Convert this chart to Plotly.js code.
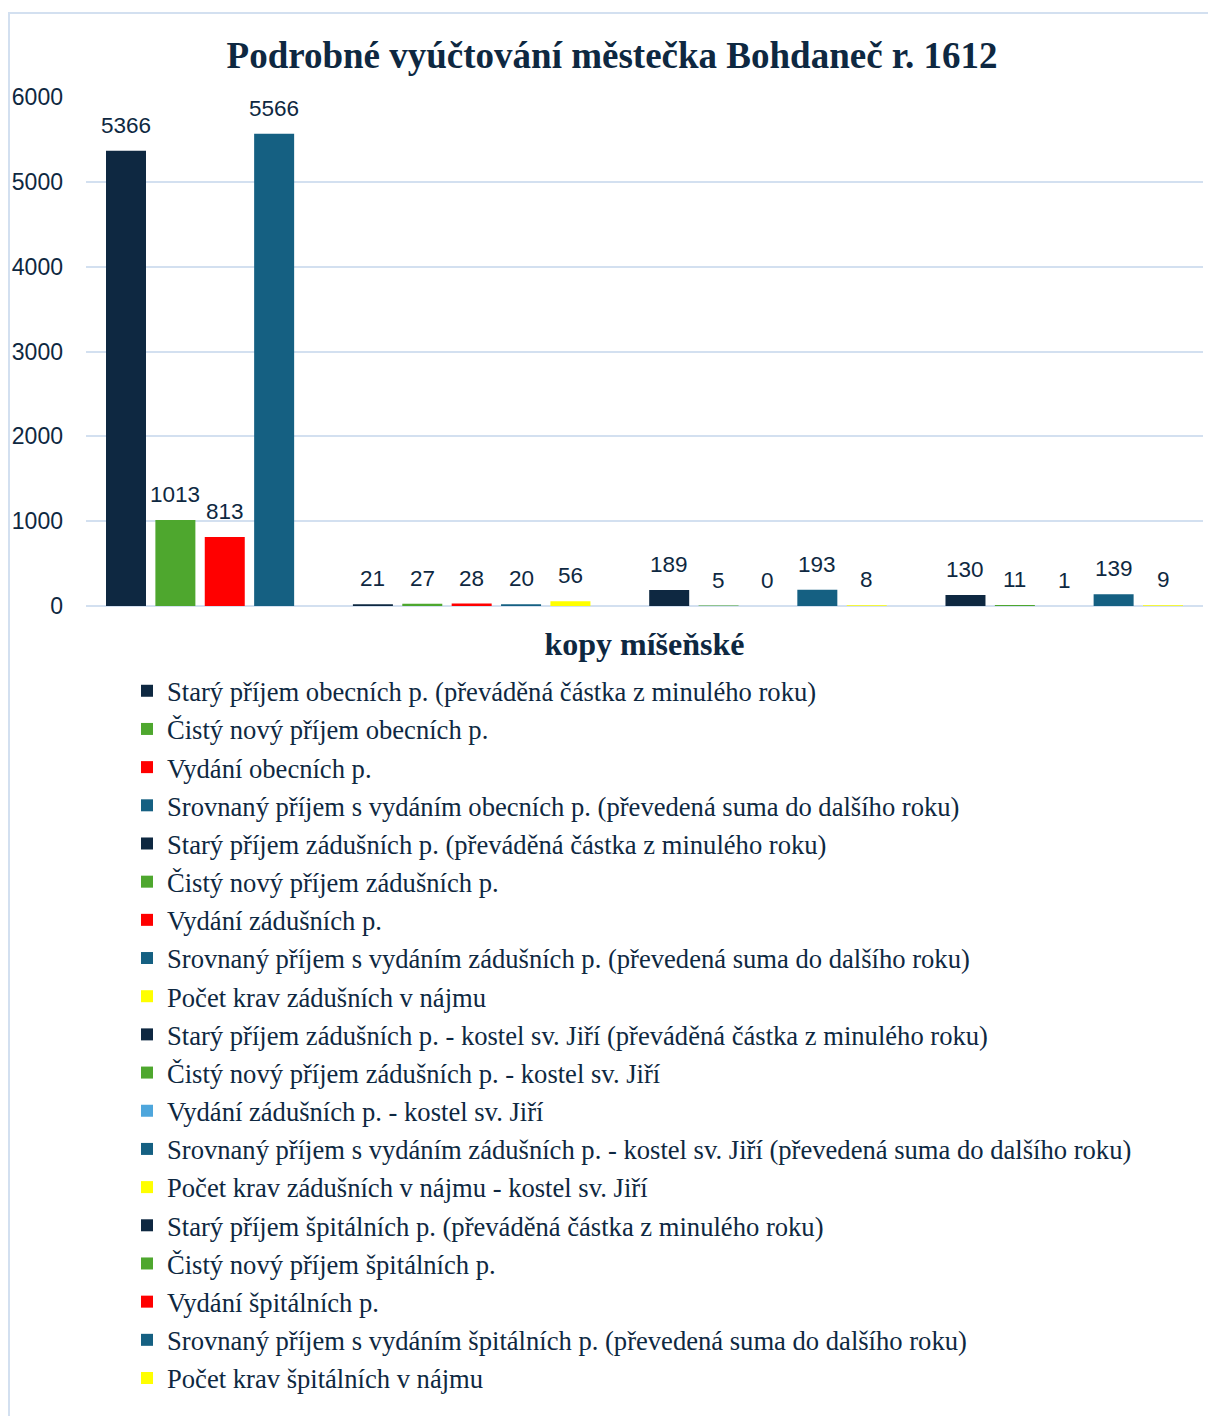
<!DOCTYPE html>
<html>
<head>
<meta charset="utf-8">
<script src="https://cdn.plot.ly/plotly-3.0.1.min.js"></script>
<style>
  html, body { margin: 0; padding: 0; background: #ffffff; }
  #wrap { position: relative; width: 1208px; height: 1416px; }
  #chart { position: absolute; left: 0; top: 0; width: 1208px; height: 1416px; }
  #frame { position: absolute; left: 8px; top: 12px; width: 1210px; height: 1420px;
           border-left: 2px solid #D3E0F0; border-top: 2px solid #D3E0F0; pointer-events: none; }
</style>
</head>
<body>
<div id="wrap">
  <div id="chart"></div>
  <div id="frame"></div>
</div>
<script>
// ---- data ----
const titleText = "Podrobné vyúčtování městečka Bohdaneč r. 1612";
const xAxisTitle = "kopy míšeňské";

const seriesNames = [
  "Starý příjem obecních p. (převáděná částka z minulého roku)",
  "Čistý nový příjem obecních p.",
  "Vydání obecních p.",
  "Srovnaný příjem s vydáním obecních p. (převedená suma do dalšího roku)",
  "Starý příjem zádušních p. (převáděná částka z minulého roku)",
  "Čistý nový příjem zádušních p.",
  "Vydání zádušních p.",
  "Srovnaný příjem s vydáním zádušních p. (převedená suma do dalšího roku)",
  "Počet krav zádušních v nájmu",
  "Starý příjem zádušních p. - kostel sv. Jiří (převáděná částka z minulého roku)",
  "Čistý nový příjem zádušních p. - kostel sv. Jiří",
  "Vydání zádušních p. - kostel sv. Jiří",
  "Srovnaný příjem s vydáním zádušních p. - kostel sv. Jiří (převedená suma do dalšího roku)",
  "Počet krav zádušních v nájmu - kostel sv. Jiří",
  "Starý příjem špitálních p. (převáděná částka z minulého roku)",
  "Čistý nový příjem špitálních p.",
  "Vydání špitálních p.",
  "Srovnaný příjem s vydáním špitálních p. (převedená suma do dalšího roku)",
  "Počet krav špitálních v nájmu"
];

const seriesValues = [
  5366, 1013, 813, 5566,
  21, 27, 28, 20, 56,
  189, 5, 0, 193, 8,
  130, 11, 1, 139, 9
];

const seriesGroups = [
  "obecní", "obecní", "obecní", "obecní",
  "zádušní", "zádušní", "zádušní", "zádušní", "zádušní",
  "kostel sv. Jiří", "kostel sv. Jiří", "kostel sv. Jiří", "kostel sv. Jiří", "kostel sv. Jiří",
  "špitální", "špitální", "špitální", "špitální", "špitální"
];

const seriesColors = [
  "#0E2841", "#4EA72E", "#FF0000", "#156082",
  "#0E2841", "#4EA72E", "#FF0000", "#156082", "#FFFF00",
  "#0E2841", "#4EA72E", "#4EA6DC", "#156082", "#FFFF00",
  "#0E2841", "#4EA72E", "#FF0000", "#156082", "#FFFF00"
];

const yTickValues = [0, 1000, 2000, 3000, 4000, 5000, 6000];

// ---- build category order: series of each group followed by an empty slot ----
const groupOrder = [];
seriesGroups.forEach(g => { if (!groupOrder.includes(g)) groupOrder.push(g); });
const categoryOrder = [];
groupOrder.forEach((g, gi) => {
  seriesNames.forEach((n, i) => { if (seriesGroups[i] === g) categoryOrder.push(n); });
  if (gi < groupOrder.length - 1) categoryOrder.push("mezera " + (gi + 1));
});

const navy = "#0E2841";
const sansFont = "Liberation Sans, Arial, sans-serif";
const serifFont = "Liberation Serif, Times New Roman, serif";

const traces = seriesNames.map((name, i) => ({
  type: "bar",
  name: name,
  x: [name],
  y: [seriesValues[i]],
  marker: { color: seriesColors[i] },
  legendgroup: "g" + i,
  hoverinfo: "name+y"
}));

const annotations = seriesNames.map((name, i) => ({
  x: name,
  y: seriesValues[i],
  xref: "x",
  yref: "y",
  text: String(seriesValues[i]),
  showarrow: false,
  yanchor: "bottom",
  xanchor: "center",
  yshift: 11,
  font: { family: sansFont, size: 22.5, color: navy }
}));

const layout = {
  width: 1208,
  height: 1416,
  paper_bgcolor: "rgba(0,0,0,0)",
  plot_bgcolor: "rgba(0,0,0,0)",
  margin: { l: 86, r: 5, t: 97, b: 810 },
  barmode: "overlay",
  bargap: 0.19,
  title: {
    text: titleText,
    font: { family: serifFont, size: 37, color: navy, weight: "bold" },
    xref: "container",
    yref: "container",
    x: 0.5066,
    xanchor: "center",
    y: 0.961,
    yanchor: "middle"
  },
  xaxis: {
    type: "category",
    categoryorder: "array",
    categoryarray: categoryOrder,
    range: [-0.81, categoryOrder.length - 1 + 0.81],
    showticklabels: false,
    ticks: "",
    showgrid: false,
    showline: false,
    zeroline: false,
    automargin: false,
    fixedrange: true,
    title: {
      text: xAxisTitle,
      font: { family: serifFont, size: 32, color: navy, weight: "bold" },
      standoff: 26
    }
  },
  yaxis: {
    range: [0, 6000],
    tickvals: yTickValues,
    ticktext: yTickValues.map(String),
    tickfont: { family: sansFont, size: 23, color: navy },
    showgrid: true,
    gridcolor: "#D3E0F0",
    gridwidth: 2,
    zeroline: true,
    zerolinecolor: "#D3E0F0",
    zerolinewidth: 2,
    showline: false,
    ticks: "",
    ticklabelstandoff: 22,
    automargin: false,
    fixedrange: true
  },
  showlegend: true,
  legend: {
    orientation: "v",
    traceorder: "grouped",
    tracegroupgap: 0.6,
    x: 0.0367,
    xanchor: "left",
    y: -0.1198,
    yanchor: "top",
    maxheight: 1400,
    bgcolor: "rgba(0,0,0,0)",
    font: { family: serifFont, size: 26.6, color: navy }
  },
  annotations: annotations
};

Plotly.newPlot("chart", traces, layout, { displayModeBar: false, staticPlot: true });
</script>
</body>
</html>
